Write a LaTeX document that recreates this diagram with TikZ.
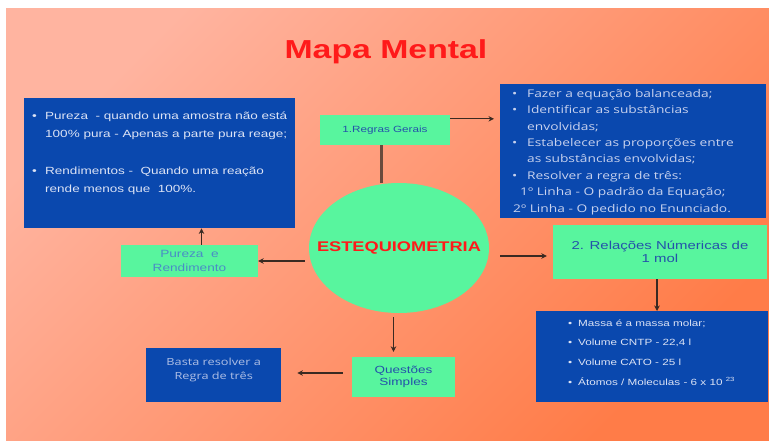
\documentclass[tikz,border=0pt]{standalone}
\usepackage{fontspec}
\setmainfont{Liberation Sans}[FakeStretch=1.3]
\newfontfamily\osfont{Open Sans}[FakeStretch=1.3]
\usetikzlibrary{arrows.meta,shapes.geometric}
\definecolor{bgA}{HTML}{FFB4A0}
\definecolor{bgB}{HTML}{FF7C48}
\definecolor{boxblue}{HTML}{0A48AE}
\definecolor{mint}{HTML}{58F59E}
\definecolor{txtlight}{HTML}{DCE3F5}
\definecolor{txtdim}{HTML}{C8D2EE}
\definecolor{bastac}{HTML}{B0C0E6}
\definecolor{txtblue}{HTML}{2452AA}
\definecolor{txtsoft}{HTML}{4A8CC6}
\definecolor{arrowc}{HTML}{3A2A22}
\definecolor{stemc}{HTML}{6A4A3C}
\definecolor{titlered}{HTML}{FF1A1A}
\newcommand\blt[1]{\makebox[#1][l]{\textbullet}}
\tikzset{
  bluebox/.style={fill=boxblue, inner sep=0pt, anchor=north west, text=txtlight},
  greenbox/.style={fill=mint, inner sep=0pt, text=txtblue, align=center},
  arr/.style={draw=arrowc, line width=1.3pt, -{Stealth[length=5.5pt,width=5.5pt]}},
  arrthick/.style={arr, line width=1.8pt},
  stemline/.style={draw=stemc, line width=3pt},
}
\begin{document}
\begin{tikzpicture}[x=1pt,y=-1pt]
\useasboundingbox (0,0) rectangle (769,440);
\fill[white] (0,0) rectangle (769,440);
\shade[top color=bgA,bottom color=bgB,shading angle=45] (6,8) rectangle (769,440);

\node[font=\bfseries\fontsize{26}{30}\selectfont, text=titlered] (title) at (386,52) {Mapa Mental};

% left blue box
\node[bluebox] (lb) at (24,98) {\parbox[c][130pt][t]{271pt}{\fontsize{10.4}{18}\selectfont
\rule{0pt}{21pt}\hspace*{8pt}\blt{13pt}Pureza\ \ - quando uma amostra não está\\
\hspace*{21pt}100\% pura - Apenas a parte pura reage;\\[19pt]
\hspace*{8pt}\blt{13pt}Rendimentos -\ \ Quando uma reação\\
\hspace*{21pt}rende menos que\ \ 100\%.}};

% right top blue box
\node[bluebox, text=txtdim] (rtb) at (500,84) {\parbox[c][134pt][t]{266pt}{\osfont\fontsize{10.6}{16.4}\selectfont
\rule{0pt}{13pt}\hspace*{12pt}\blt{15pt}Fazer a equação balanceada;\\
\hspace*{12pt}\blt{15pt}Identificar as substâncias\\
\hspace*{27pt}envolvidas;\\
\hspace*{12pt}\blt{15pt}Estabelecer as proporções entre\\
\hspace*{27pt}as substâncias envolvidas;\\
\hspace*{12pt}\blt{15pt}Resolver a regra de três:\\
\hspace*{20pt}1º Linha - O padrão da Equação;\\
\hspace*{13pt}2º Linha - O pedido no Enunciado.}};

% right bottom blue box
\node[bluebox] (rb) at (536,311) {\parbox[c][91pt][t]{232pt}{\fontsize{9}{19.7}\selectfont
\rule{0pt}{15pt}\hspace*{32pt}\blt{10pt}Massa é a massa molar;\\
\hspace*{32pt}\blt{10pt}Volume CNTP - 22,4 l\\
\hspace*{32pt}\blt{10pt}Volume CATO - 25 l\\
\hspace*{32pt}\blt{10pt}Átomos / Moleculas - 6 x 10 \textsuperscript{23}}};

% Basta box
\node[bluebox, text=bastac] (basta) at (146,348) {\parbox[c][54pt][t]{135pt}{\centering\osfont\fontsize{9.8}{14}\selectfont
\rule{0pt}{17.5pt}Basta resolver a\\Regra de três}};

% ellipse
\node[ellipse, fill=mint, minimum width=180pt, minimum height=130pt, inner sep=0pt,
      font=\bfseries\fontsize{14}{16}\selectfont, text=titlered] (est) at (399,248) {\makebox[0pt][c]{ESTEQUIOMETRIA}};

% green boxes
\node[greenbox, minimum width=130pt, minimum height=30pt, font=\fontsize{9}{11}\selectfont] (reg) at (385,130) {1.Regras Gerais};
\node[greenbox, minimum width=137pt, minimum height=32pt, text=txtsoft, font=\fontsize{10.5}{14}\selectfont] (pur) at (189.5,261) {Pureza\ \ e\\Rendimento};
\node[greenbox, minimum width=214pt, minimum height=54pt, font=\fontsize{11.5}{13}\selectfont] (rel) at (660,252) {2. Relações Númericas de\\1 mol};
\node[greenbox, minimum width=103pt, minimum height=40pt, font=\fontsize{10.4}{12}\selectfont] (que) at (403.5,377) {Questões\\Simples};

% connectors
\draw[stemline] ([xshift=-4pt]reg.south) -- ([xshift=-4pt]reg.south |- est.north);
\draw[arr, shorten >=6pt] ([yshift=-4pt]reg.north east) -- ([yshift=-4pt]reg.north east -| rtb.west);
\draw[arr, shorten <=4pt] (est.west |- pur.east) -- (pur.east);
\draw[arr] ([xshift=12pt]pur.north) -- ([xshift=12pt]pur.north |- lb.south);
\draw[arr, shorten <=11pt, shorten >=6pt] ([yshift=-4pt]rel.west -| est.east) -- ([yshift=-4pt]rel.west);
\draw[arrthick] ([xshift=-3pt]rel.south) -- ([xshift=-3pt]rel.south |- rb.north);
\draw[arrthick, shorten <=4pt, shorten >=5pt] ([xshift=-10pt]que.north |- est.south) -- ([xshift=-10pt]que.north);
\draw[arr, shorten <=9pt, shorten >=16pt] ([yshift=4pt]que.west) -- ([yshift=4pt]que.west -| basta.east);
\end{tikzpicture}
\end{document}
